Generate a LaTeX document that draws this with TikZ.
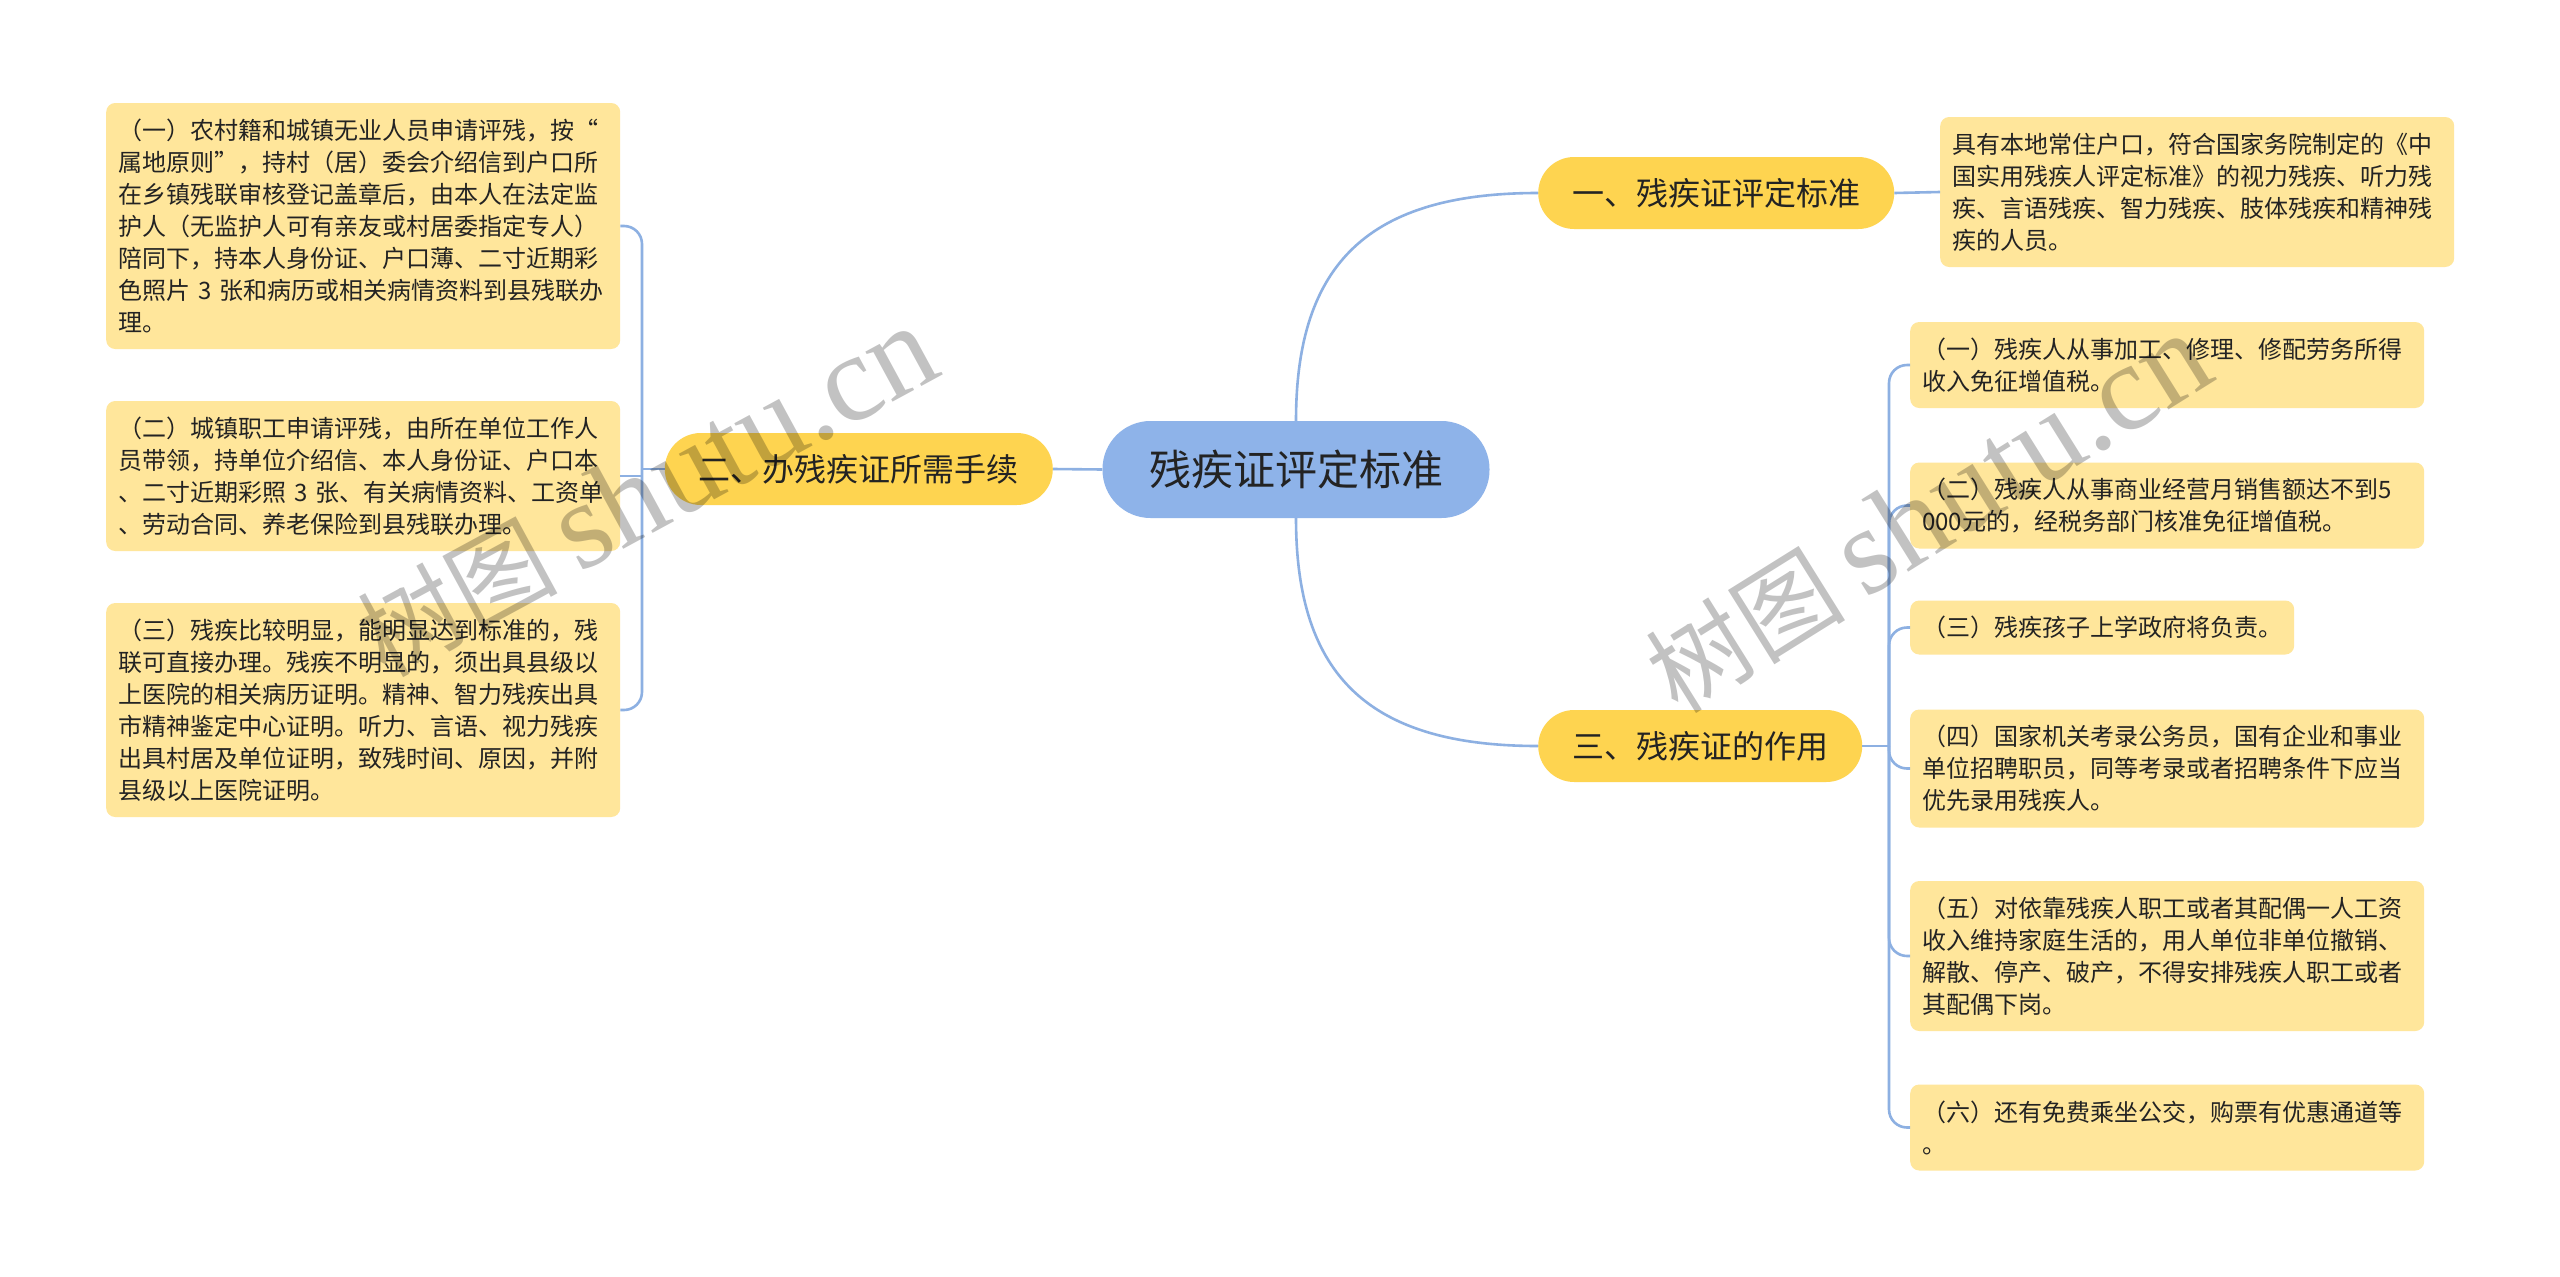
\documentclass[tikz,border=0pt]{standalone}
\usepackage{fontspec}
\setmainfont{Noto Sans CJK SC}
\newfontfamily\wmfont{Liberation Serif}
\definecolor{leafc}{RGB}{255,230,155}
\definecolor{branchc}{RGB}{254,212,80}
\definecolor{rootc}{RGB}{142,179,233}
\definecolor{linec}{RGB}{141,176,226}
\definecolor{txt}{RGB}{35,35,35}
\tikzset{
  leaf/.style={fill=leafc, rounded corners=9pt, align=left, text width=490pt,
    inner xsep=12pt, inner ysep=4pt, font=\fontsize{24}{32}\selectfont, text=txt, anchor=west},
  leafone/.style={fill=leafc, rounded corners=9pt, inner xsep=12pt, inner ysep=4pt,
    font=\fontsize{24}{32}\selectfont, text=txt, anchor=west, minimum height=54pt},
  branch/.style={fill=branchc, rounded corners=36pt, font=\fontsize{32}{38}\selectfont,
    inner xsep=34pt, inner ysep=0pt, minimum height=72pt, text=txt},
  root/.style={fill=rootc, rounded corners=48pt, font=\fontsize{42}{48}\selectfont,
    minimum height=97pt, minimum width=387pt, text=txt},
  conn/.style={draw=linec, line width=2.6pt},
  bracket/.style={draw=linec, line width=2.6pt, rounded corners=18pt},
  wm/.style={text=black, text opacity=0.24, inner sep=0pt}
}
\begin{document}
\begin{tikzpicture}[x=1pt,y=-1pt]
\useasboundingbox (0,0) rectangle (2560,1277);
\fill[white] (0,0) rectangle (2560,1277);

% root and branches
\node[root] (root) at (1296,469.5) {残疾证评定标准};
\node[branch, anchor=west] (n1) at (1538,193) {一、残疾证评定标准};
\node[branch, anchor=east, minimum width=387pt] (n2) at (1053,469) {二、办残疾证所需手续};
\node[branch, anchor=west] (n3) at (1538,746) {三、残疾证的作用};

% leaves of n1
\node[leaf, anchor=west, minimum height=150pt] (r0) at (1940,192) {具有本地常住户口，符合国家务院制定的《中\\国实用残疾人评定标准》的视力残疾、听力残\\疾、言语残疾、智力残疾、肢体残疾和精神残\\疾的人员。};

% leaves of n2
\node[leaf, minimum height=246pt] (l1) at (106,226) {（一）农村籍和城镇无业人员申请评残，按“\\属地原则”，持村（居）委会介绍信到户口所\\在乡镇残联审核登记盖章后，由本人在法定监\\护人（无监护人可有亲友或村居委指定专人）\\陪同下，持本人身份证、户口薄、二寸近期彩\\色照片 3 张和病历或相关病情资料到县残联办\\理。};
\node[leaf, minimum height=150pt] (l2) at (106,476) {（二）城镇职工申请评残，由所在单位工作人\\员带领，持单位介绍信、本人身份证、户口本\\、二寸近期彩照 3 张、有关病情资料、工资单\\、劳动合同、养老保险到县残联办理。};
\node[leaf, minimum height=214pt] (l3) at (106,710) {（三）残疾比较明显，能明显达到标准的，残\\联可直接办理。残疾不明显的，须出具县级以\\上医院的相关病历证明。精神、智力残疾出具\\市精神鉴定中心证明。听力、言语、视力残疾\\出具村居及单位证明，致残时间、原因，并附\\县级以上医院证明。};

% leaves of n3
\node[leaf, minimum height=86pt] (r1) at (1910,365) {（一）残疾人从事加工、修理、修配劳务所得\\收入免征增值税。};
\node[leaf, minimum height=86pt] (r2) at (1910,505.5) {（二）残疾人从事商业经营月销售额达不到5\\000元的，经税务部门核准免征增值税。};
\node[leafone] (r3) at (1910,627.5) {（三）残疾孩子上学政府将负责。};
\node[leaf, minimum height=118pt] (r4) at (1910,768.5) {（四）国家机关考录公务员，国有企业和事业\\单位招聘职员，同等考录或者招聘条件下应当\\优先录用残疾人。};
\node[leaf, minimum height=150pt] (r5) at (1910,956) {（五）对依靠残疾人职工或者其配偶一人工资\\收入维持家庭生活的，用人单位非单位撤销、\\解散、停产、破产，不得安排残疾人职工或者\\其配偶下岗。};
\node[leaf, minimum height=86pt] (r6) at (1910,1127.5) {（六）还有免费乘坐公交，购票有优惠通道等\\。};

% connectors: root to branches
\draw[conn] (root.north) .. controls (1296,262) and (1370,193) .. (n1.west);
\draw[conn] (root.south) .. controls (1296,677) and (1370,746) .. (n3.west);
\draw[conn] (root.west) -- (n2.east);

% n1 to its leaf
\draw[conn] (n1.east) -- (r0.west);

% n2 bracket
\coordinate (s2) at (642,469);
\draw[conn] (n2.west) -- (s2);
\draw[bracket] (s2) |- (l1.east);
\draw[conn] (s2) |- (l2.east);
\draw[bracket] (s2) |- (l3.east);

% n3 bracket
\coordinate (s3) at (1889,746);
\draw[conn] (n3.east) -- (s3);
\draw[bracket] (s3) |- (r1.west);
\draw[bracket] (s3) |- (r2.west);
\draw[bracket] (s3) |- (r3.west);
\draw[bracket] (s3) |- (r4.west);
\draw[bracket] (s3) |- (r5.west);
\draw[bracket] (s3) |- (r6.west);

% watermark
\node[wm, rotate=28.5] (wm1) at (647,492) {{\fontsize{100}{100}\selectfont 树图}\hspace{20pt}{\wmfont\fontsize{124}{124}\selectfont shutu.cn}};
\node[wm, rotate=32] (wm2) at (1928,514) {{\fontsize{100}{100}\selectfont 树图}\hspace{20pt}{\wmfont\fontsize{124}{124}\selectfont shutu.cn}};
\end{tikzpicture}
\end{document}
